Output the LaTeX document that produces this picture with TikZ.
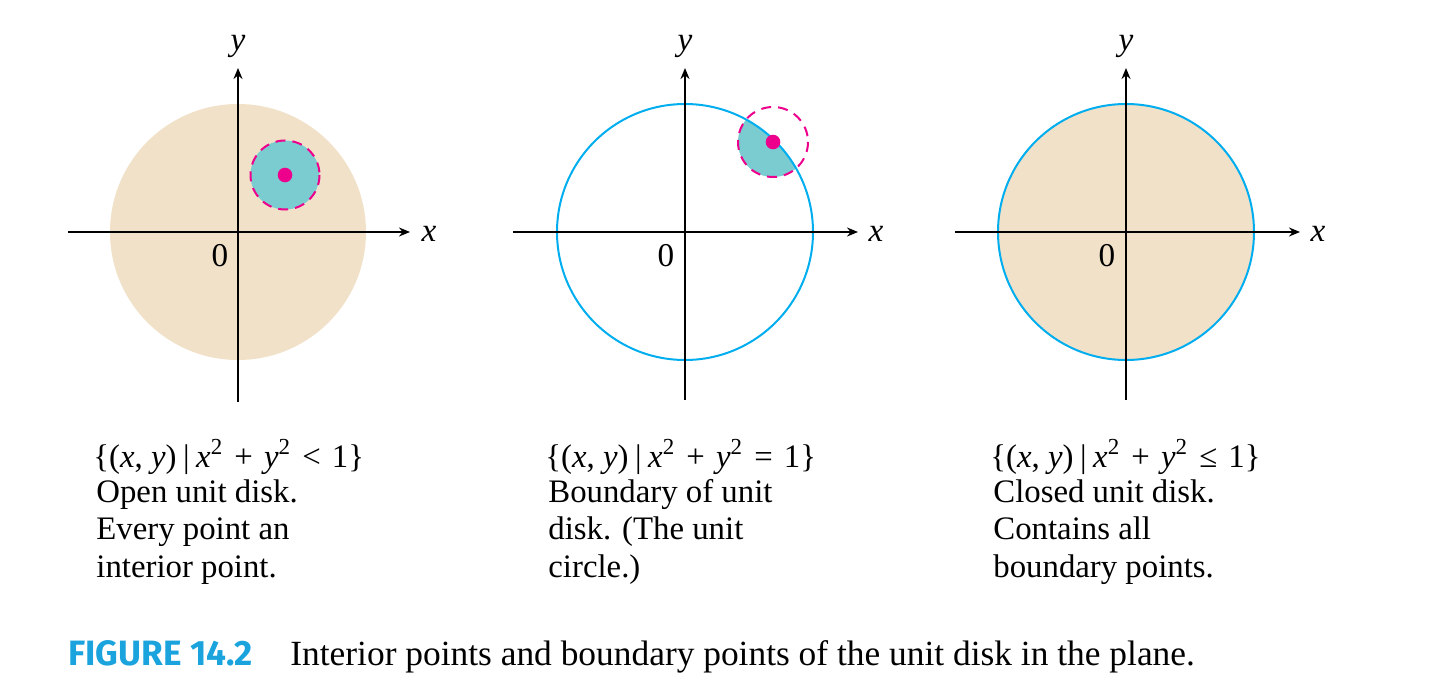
\documentclass[tikz,border=0pt]{standalone}
\usepackage{fontspec}
\setmainfont{Liberation Serif}
\newfontfamily\figfont{Fira Sans}
\usetikzlibrary{arrows.meta}
\definecolor{disktan}{HTML}{F2E1C9}
\definecolor{unitblue}{HTML}{00AEEF}
\definecolor{nbhdcyan}{HTML}{7BCCD1}
\definecolor{ptmagenta}{HTML}{EC008C}
\definecolor{figblue}{HTML}{1AA3DD}
\newcommand{\opgap}{\hspace{0.34em}}
\newcommand{\setline}[1]{\{(\textit{x}, \textit{y})\hspace{0.2em}|\hspace{0.2em}\textit{x}\textsuperscript{2}\opgap+\opgap\textit{y}\textsuperscript{2}\opgap#1\opgap1\}}

\begin{document}
\begin{tikzpicture}[x=0.5pt, y=-0.5pt,
        axis/.style={line width=1pt, -{Stealth[length=5.5pt, width=4.5pt]}},
        rim/.style={draw=unitblue, line width=1pt},
        nbhd/.style={draw=ptmagenta, line width=1pt, dash pattern=on 5pt off 3.5pt},
        dot/.style={circle, fill=ptmagenta, inner sep=0pt, minimum size=7.3pt},
        lbl/.style={inner sep=0pt, font=\fontsize{16.6}{20}\selectfont\itshape},
        zero/.style={inner sep=0pt, font=\fontsize{16.6}{20}\selectfont},
        txt/.style={anchor=base west, inner sep=0pt, font=\fontsize{16.4}{20}\selectfont}
    ]
        \useasboundingbox (0,0) rectangle (1456,690);

        % Open unit disk
        \coordinate (o1) at (238,232);
        \fill[disktan] (o1) circle[radius=128];
        \fill[nbhdcyan] (285,175) circle[radius=34.5];
        \draw[nbhd] (285,175) circle[radius=34.5];
        \node[dot] (p1) at (285,175) {};
        \draw[axis] (68,232) -- (410,232);
        \draw[axis] (238,402) -- (238,68);
        \node[lbl] (x1) at (429,234) {x};
        \node[lbl] (y1) at (238,46) {y};
        \node[zero] (z1) at (220,256) {0};

        % Boundary of unit disk
        \coordinate (o2) at (685,232);
        \begin{scope}
            \clip (o2) circle[radius=128];
            \fill[nbhdcyan] (773,142) circle[radius=35];
        \end{scope}
        \draw[rim] (o2) circle[radius=128];
        \draw[axis] (513,232) -- (858,232);
        \draw[axis] (685,400) -- (685,68);
        \draw[nbhd] (773,142) circle[radius=35];
        \node[dot] (p2) at (773,142) {};
        \node[lbl] (x2) at (876,234) {x};
        \node[lbl] (y2) at (685,46) {y};
        \node[zero] (z2) at (666,256) {0};

        % Closed unit disk
        \coordinate (o3) at (1126,232);
        \fill[disktan] (o3) circle[radius=128];
        \draw[rim] (o3) circle[radius=128];
        \draw[axis] (955,232) -- (1300,232);
        \draw[axis] (1126,400) -- (1126,68);
        \node[lbl] (x3) at (1318,234) {x};
        \node[lbl] (y3) at (1126,46) {y};
        \node[zero] (z3) at (1107,256) {0};

        % Descriptions
        \node[txt] (set1) at (93,467) {\setline{<}};
        \node[txt] (a1) at (96,502) {Open unit disk.};
        \node[txt] (b1) at (96,539) {Every point an};
        \node[txt] (c1) at (96,577) {interior point.};

        \node[txt] (set2) at (545,467) {\setline{=}};
        \node[txt] (a2) at (548,502) {Boundary of unit};
        \node[txt] (b2) at (548,539) {disk. (The unit};
        \node[txt] (c2) at (548,577) {circle.)};

        \node[txt] (set3) at (990,467) {\setline{≤}};
        \node[txt] (a3) at (993,502) {Closed unit disk.};
        \node[txt] (b3) at (993,539) {Contains all};
        \node[txt] (c3) at (993,577) {boundary points.};

        % Caption
        \node[anchor=base west, inner sep=0pt, text=figblue, font=\figfont\bfseries\fontsize{17.6}{20}\selectfont] (fig) at (68,665) {FIGURE 14.2};
        \node[anchor=base west, inner sep=0pt, font=\fontsize{17.7}{20}\selectfont] (cap) at (290,665) {Interior points and boundary points of the unit disk in the plane.};

    \end{tikzpicture}
\end{document}
